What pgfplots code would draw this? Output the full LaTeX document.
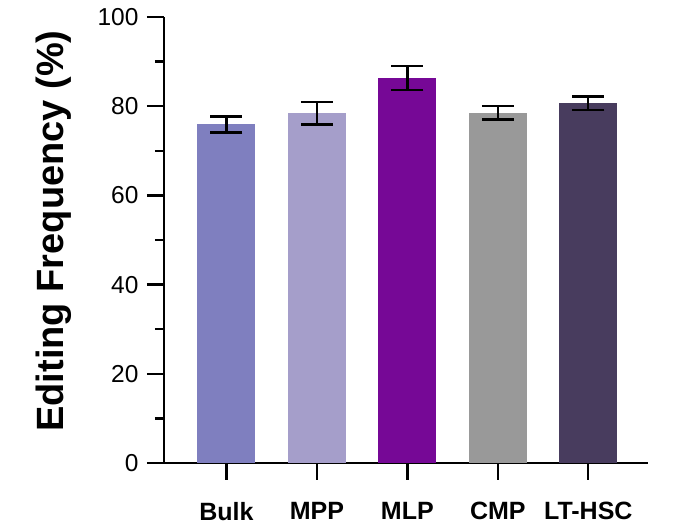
\documentclass[border=0pt]{standalone}
\usepackage{pgfplots}
\pgfplotsset{compat=1.18}
\usepackage{fontspec}
\setmainfont{Liberation Sans}
\definecolor{cBulk}{HTML}{7F7FBF}
\definecolor{cMPP}{HTML}{A59ECA}
\definecolor{cMLP}{HTML}{760896}
\definecolor{cCMP}{HTML}{999999}
\definecolor{cLT}{HTML}{483C5E}
\begin{document}
\begin{tikzpicture}
\begin{axis}[
  at={(0,0)}, anchor=south west,
  width=484bp, height=446bp, scale only axis,
  xmin=-0.69, xmax=4.66, ymin=0, ymax=100,
  axis lines*=left,
  axis line style={line width=2.4bp, black},
  every tick/.style={black, line width=2.4bp},
  tick align=outside,
  major tick length=17bp, minor tick length=9bp,
  ytick={0,20,...,100}, minor y tick num=1,
  xtick={0,1,2,3,4}, xticklabels={Bulk,MPP,MLP,CMP,LT-HSC},
  x tick label style={font=\fontsize{25bp}{29bp}\selectfont\bfseries, yshift=-19bp},
  y tick label style={font=\fontsize{24.5bp}{28bp}\selectfont, xshift=-5bp},
  /pgf/number format/assume math mode=true,
  ylabel={Editing Frequency (\%)},
  ylabel style={font=\fontsize{38bp}{42bp}\selectfont\bfseries, at={(axis description cs:-0.227,0.52)}, anchor=center},
  ybar, bar width=58bp, bar shift=0pt,
  error bars/y dir=both, error bars/y explicit,
  error bars/error bar style={line width=2.4bp, black},
  error bars/error mark options={rotate=90, mark size=16bp, line width=2.4bp, black},
  clip=false
]
\addplot[draw=none, fill=cBulk] coordinates {(0,75.9) +- (0,1.8)};
\addplot[draw=none, fill=cMPP] coordinates {(1,78.4) +- (0,2.5)};
\addplot[draw=none, fill=cMLP] coordinates {(2,86.3) +- (0,2.7)};
\addplot[draw=none, fill=cCMP] coordinates {(3,78.5) +- (0,1.5)};
\addplot[draw=none, fill=cLT] coordinates {(4,80.7) +- (0,1.5)};
\end{axis}
\pgfresetboundingbox
\path[use as bounding box] (-164bp,-65bp) rectangle (525bp,463bp);
\end{tikzpicture}
\end{document}
